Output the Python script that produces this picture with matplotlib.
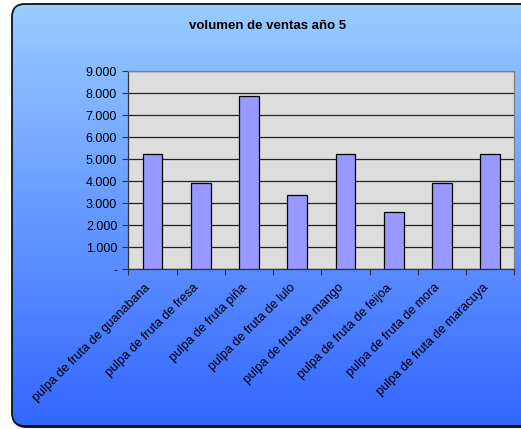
import matplotlib
matplotlib.use("Agg")
import matplotlib.pyplot as plt
import numpy as np
from matplotlib.patches import FancyBboxPatch
from matplotlib.ticker import FixedLocator, FuncFormatter

categories = [
    "pulpa de fruta de guanabana",
    "pulpa de fruta de fresa",
    "pulpa de fruta piña",
    "pulpa de fruta de lulo",
    "pulpa de fruta de mango",
    "pulpa de fruta de feijoa",
    "pulpa de fruta de mora",
    "pulpa de fruta de maracuya",
]
ventas = [5230, 3920, 7850, 3380, 5230, 2620, 3920, 5230]
y_ticks = [0, 1000, 2000, 3000, 4000, 5000, 6000, 7000, 8000, 9000]
title = "volumen de ventas año 5"

plt.rcParams["font.family"] = ["Liberation Sans", "DejaVu Sans"]

W, H = 521, 429
fig = plt.figure(figsize=(W / 100, H / 100), dpi=100)
fig.patch.set_facecolor("white")

# Background panel with rounded corners and a vertical gradient
bg = fig.add_axes([0, 0, 1, 1], zorder=0)
bg.set_xlim(0, W)
bg.set_ylim(H, 0)
bg.axis("off")

x0, y0, x1, y1 = 12, 4, 536, 426
box = dict(boxstyle="round,pad=0,rounding_size=13")
shadow = FancyBboxPatch((x0 + 1, y0 + 2), x1 - x0, y1 - y0, **box,
                        facecolor="#1a1a1a", edgecolor="none", zorder=1)
bg.add_patch(shadow)
panel = FancyBboxPatch((x0, y0), x1 - x0, y1 - y0, **box,
                       facecolor="none", edgecolor="#111111", linewidth=1.3, zorder=3)
bg.add_patch(panel)

top = np.array([0x99, 0xCC, 0xFF]) / 255
bot = np.array([0x33, 0x66, 0xFF]) / 255
t = np.linspace(0, 1, 256)[:, None]
grad = (top[None, :] * (1 - t) + bot[None, :] * t)[:, None, :]
im = bg.imshow(grad, extent=(x0, x1, y1, y0), aspect="auto", zorder=2,
               interpolation="bilinear")
clip = FancyBboxPatch((x0, y0), x1 - x0, y1 - y0, **box,
                      transform=bg.transData, facecolor="none", edgecolor="none")
bg.add_patch(clip)
im.set_clip_path(clip)
bg.set_xlim(0, W)
bg.set_ylim(H, 0)

bg.text(268, 26, title, ha="center", va="center", fontsize=9.5, fontweight="bold",
        color="black", zorder=4)

# Main chart
ax = fig.add_axes([128.3 / W, 1 - 269.3 / H, (514.3 - 128.3) / W, (269.3 - 71) / H], zorder=2)
ax.set_facecolor("#DDDDDD")
x = np.arange(len(categories))
ax.bar(x, ventas, width=0.41, color="#9999FF", edgecolor="black", linewidth=0.9, zorder=3)
ax.set_xlim(-0.5, len(categories) - 0.5)
ax.set_ylim(0, 9000)

ax.yaxis.set_major_locator(FixedLocator(y_ticks))
ax.yaxis.set_major_formatter(FuncFormatter(
    lambda v, p: "-" if v == 0 else f"{int(v):,}".replace(",", ".")))
ax.grid(axis="y", color="#222222", linewidth=0.9, zorder=1)
ax.set_axisbelow(True)

# category labels sit slightly left of each bar's centre
label_offset = 0.08
ax.set_xticks(x - label_offset)
ax.set_xticklabels(categories, rotation=45, ha="right", va="center",
                   rotation_mode="anchor", fontsize=9)
ax.xaxis.set_minor_locator(FixedLocator(np.arange(-0.5, len(categories), 1.0)))
ax.tick_params(axis="x", which="major", length=0, pad=12)
ax.tick_params(axis="x", which="minor", length=4, width=0.8, color="#333333")
ax.tick_params(axis="y", length=4, width=0.8, color="#333333", labelsize=9, pad=4)

for side in ["top", "right"]:
    ax.spines[side].set_color("#808080")
    ax.spines[side].set_linewidth(0.9)
for side in ["left", "bottom"]:
    ax.spines[side].set_color("#333333")
    ax.spines[side].set_linewidth(0.9)

fig.savefig("out.png", dpi=100)
